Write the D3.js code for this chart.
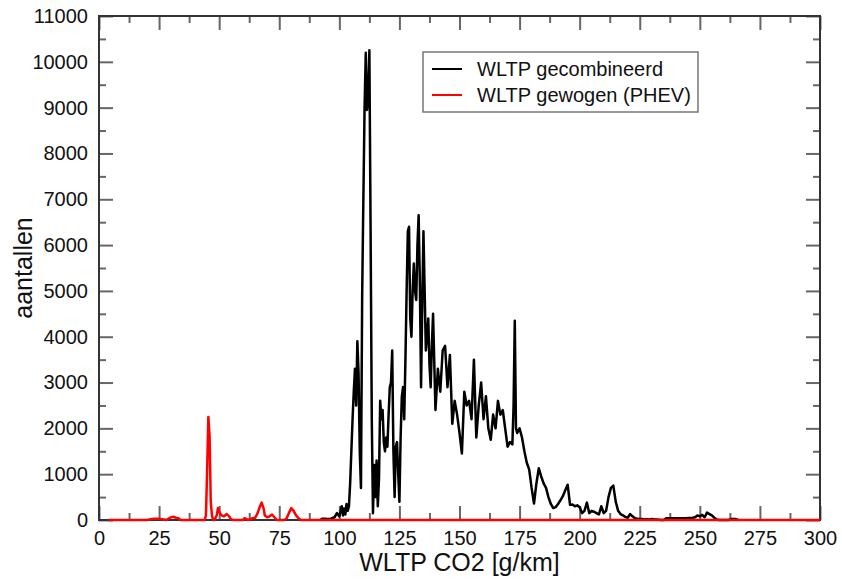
<!DOCTYPE html>
<html>
<head>
<meta charset="utf-8">
<script src="https://cdn.jsdelivr.net/npm/d3@7"></script>
<style>
  body { margin: 0; background: #fff; }
  text { font-family: "Liberation Sans", Arial, sans-serif; fill: #111; }
</style>
</head>
<body>
<div class="canvas"></div>
<script>
// tick values
const xTicks = [0, 25, 50, 75, 100, 125, 150, 175, 200, 225, 250, 275, 300];
const xMinorTicks = [12.5, 37.5, 62.5, 87.5, 112.5, 137.5, 162.5, 187.5, 212.5, 237.5, 262.5, 287.5];
const yTicks = [0, 1000, 2000, 3000, 4000, 5000, 6000, 7000, 8000, 9000, 10000, 11000];
const yMinorTicks = [500, 1500, 2500, 3500, 4500, 5500, 6500, 7500, 8500, 9500, 10500];

// series: [CO2 g/km, aantal]
const gecombineerd = [
    [92, 0], [93, 30], [94, 30], [95, 20], [96, 20], [97, 40], [98, 60], [99, 150], [100, 80],
    [101, 300], [101.5, 100], [102, 250], [102.5, 120], [103, 350], [103.5, 200], [104, 300], [104.5, 800],
    [105, 1500], [105.5, 2200], [106, 2800], [106.5, 3300], [107, 2500], [107.5, 3900], [108, 3200], [108.5, 1500],
    [109, 700], [109.5, 4900], [110, 7000], [110.5, 9000], [111, 10200], [111.5, 8950], [112, 9200], [112.5, 10250],
    [113, 6400], [113.5, 2200], [114, 150], [114.5, 1200], [115, 500], [115.5, 1300], [116, 300], [116.5, 900],
    [117, 2600], [117.5, 2200], [118, 2400], [118.5, 1700], [119, 1500], [119.5, 1800], [120, 1600], [120.5, 2300],
    [121, 2900], [121.5, 3000], [122, 3700], [122.5, 1500], [123, 500], [123.5, 1600], [124, 1700], [124.5, 1000],
    [125, 400], [125.5, 1800], [126, 2700], [126.5, 2900], [127, 2200], [127.5, 3500], [128, 5000], [128.5, 6300],
    [129, 6400], [129.5, 4400], [130, 4000], [130.5, 5000], [131, 5600], [131.5, 5000], [132, 4800], [132.5, 6000],
    [133, 6650], [133.5, 5200], [134, 2900], [134.5, 4700], [135, 6300], [135.5, 5000], [136, 3700], [136.5, 4000],
    [137, 4400], [137.5, 3400], [138, 2900], [138.5, 3800], [139, 4500], [140, 2400], [141, 3300], [142, 2800],
    [143, 3700], [144, 3800], [145, 2900], [146, 3600], [147, 2100], [148, 2600], [149, 2300], [150, 1900],
    [151, 1450], [152, 2800], [153, 2500], [154, 2600], [155, 2200], [156, 3500], [157, 1800], [158, 2500],
    [159, 3000], [160, 2200], [161, 2700], [162, 2000], [163, 1750], [164, 2300], [165, 2000], [166, 2600],
    [167, 2300], [168, 2400], [169, 2000], [170, 1600], [171, 1700], [172, 1650], [172.5, 2500], [173, 4350],
    [173.5, 2000], [174, 1900], [175, 2000], [176, 1800], [177, 1500], [178, 1250], [179, 1100], [180, 700],
    [181, 360], [182, 800], [183, 1130], [184, 950], [185, 800], [186, 700], [187, 500], [188, 350],
    [189, 260], [190, 280], [191, 350], [192, 430], [193, 520], [194, 650], [195, 770], [196, 330],
    [197, 340], [198, 300], [199, 320], [200, 280], [201, 150], [202, 200], [203, 380], [204, 150],
    [205, 200], [206, 180], [207, 150], [208, 120], [209, 300], [210, 150], [211, 200], [212, 500],
    [213, 700], [214, 750], [215, 400], [216, 200], [217, 130], [218, 100], [219, 70], [220, 50],
    [221, 130], [222, 80], [223, 40], [224, 30], [225, 20], [226, 20], [227, 10], [228, 15],
    [229, 10], [230, 20], [231, 10], [232, 10], [233, 5], [234, 0], [235, 0], [236, 40],
    [240, 40], [244, 40], [247, 50], [248, 60], [249, 100], [250, 80], [251, 110], [252, 60],
    [253, 160], [254, 130], [255, 100], [256, 50], [257, 10], [258, 0], [262, 0], [263, 20],
    [265, 20], [266, 0]
];

const gewogen = [
    [4, 0], [20, 0], [22, 20], [23, 30], [25, 30], [27, 10], [28, 0], [29, 30], [30, 60], [31, 70],
    [32, 50], [33, 40], [34, 0], [44, 0], [44.5, 100], [45, 1100], [45.5, 2250], [46, 1850], [46.5, 400],
    [47, 100], [47.5, 0], [48, 0], [49, 100], [49.5, 260], [50, 180], [51, 100], [52, 80], [53, 130],
    [54, 90], [55, 10], [56, 0], [60, 0], [60.5, 40], [61, 30], [62, 0], [64, 40], [65, 50], [66, 150],
    [67, 300], [67.7, 380], [68.5, 250], [69, 100], [70, 60], [71, 80], [72, 120], [73, 60], [74, 0],
    [77, 0], [78, 30], [79, 150], [80, 260], [81, 200], [82, 100], [83, 40], [84, 0], [300, 0]
];

const legendItems = [
    { name: 'WLTP gecombineerd', color: '#000' },
    { name: 'WLTP gewogen (PHEV)', color: '#f00' }
];

const svg = d3.select('.canvas')
    .append('svg')
    .attr('width', 842)
    .attr('height', 580);

// margins and dimensions
const margin = { top: 16, right: 22, bottom: 60, left: 99 };
const graphWidth = 842 - margin.left - margin.right;
const graphHeight = 580 - margin.top - margin.bottom;

const graph = svg.append('g')
    .attr('transform', `translate(${margin.left}, ${margin.top})`);

// scales
const x = d3.scaleLinear().domain([0, 300]).range([0, graphWidth]);
const y = d3.scaleLinear().domain([0, 11000]).range([graphHeight, 0]);

const major = 14, minor = 7, tickColor = '#666';

// ticks on all four sides, pointing inwards
const addAxis = (axis, transform, labels) => {
    const g = graph.append('g').attr('transform', transform).call(axis);
    g.select('.domain').remove();
    g.selectAll('line').attr('stroke', tickColor).attr('stroke-width', 2);
    if (!labels) g.selectAll('text').remove();
    else g.selectAll('text').attr('font-size', 20).attr('fill', '#111');
    return g;
};

addAxis(d3.axisBottom(x).tickValues(xTicks).tickFormat(d3.format('d')).tickSize(-major).tickPadding(11), `translate(0, ${graphHeight})`, true);
addAxis(d3.axisBottom(x).tickValues(xMinorTicks).tickSize(-minor), `translate(0, ${graphHeight})`, false);
addAxis(d3.axisTop(x).tickValues(xTicks).tickSize(-major), 'translate(0, 0)', false);
addAxis(d3.axisTop(x).tickValues(xMinorTicks).tickSize(-minor), 'translate(0, 0)', false);
addAxis(d3.axisLeft(y).tickValues(yTicks).tickFormat(d3.format('d')).tickSize(-major).tickPadding(11), 'translate(0, 0)', true);
addAxis(d3.axisLeft(y).tickValues(yMinorTicks).tickSize(-minor), 'translate(0, 0)', false);
addAxis(d3.axisRight(y).tickValues(yTicks).tickSize(-major), `translate(${graphWidth}, 0)`, false);
addAxis(d3.axisRight(y).tickValues(yMinorTicks).tickSize(-minor), `translate(${graphWidth}, 0)`, false);

// frame
graph.append('rect')
    .attr('width', graphWidth)
    .attr('height', graphHeight)
    .attr('fill', 'none')
    .attr('stroke', '#333')
    .attr('stroke-width', 2);

// lines
const line = d3.line()
    .x(d => x(d[0]))
    .y(d => y(d[1]));

graph.append('path')
    .datum(gecombineerd)
    .attr('fill', 'none')
    .attr('stroke', '#000')
    .attr('stroke-width', 2.5)
    .attr('stroke-linejoin', 'round')
    .attr('d', line);

graph.append('path')
    .datum(gewogen)
    .attr('fill', 'none')
    .attr('stroke', '#f00')
    .attr('stroke-width', 2.5)
    .attr('stroke-linejoin', 'round')
    .attr('d', line);

// axis titles
svg.append('text')
    .attr('x', margin.left + graphWidth / 2)
    .attr('y', 571)
    .attr('text-anchor', 'middle')
    .attr('font-size', 25)
    .text('WLTP CO2 [g/km]');

svg.append('text')
    .attr('transform', `translate(32, ${margin.top + graphHeight / 2}) rotate(-90)`)
    .attr('text-anchor', 'middle')
    .attr('font-size', 25)
    .text('aantallen');

// legend
const legend = svg.append('g').attr('transform', 'translate(423, 52)');
legend.append('rect')
    .attr('width', 275)
    .attr('height', 60)
    .attr('fill', '#fff')
    .attr('stroke', '#777')
    .attr('stroke-width', 1.5);

const items = legend.selectAll('g.item')
    .data(legendItems)
    .enter()
    .append('g')
    .attr('transform', (d, i) => `translate(0, ${17 + i * 26})`);

items.append('line')
    .attr('x1', 9).attr('x2', 39)
    .attr('stroke', d => d.color)
    .attr('stroke-width', 2);

items.append('text')
    .attr('x', 54)
    .attr('dy', '0.35em')
    .attr('font-size', 20)
    .text(d => d.name);
</script>
</body>
</html>
